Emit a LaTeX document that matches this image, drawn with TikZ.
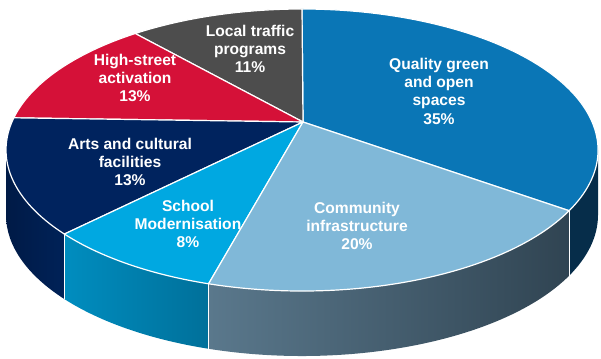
\documentclass[tikz,border=0pt]{standalone}
\usepackage{fontspec}
\setmainfont{Liberation Sans}
\usepackage{xcolor}
\usetikzlibrary{calc}

\definecolor{greenTop}{HTML}{0A76B6}
\definecolor{greenSide}{HTML}{062D4A}
\definecolor{commTop}{HTML}{80B8D8}
\definecolor{commSideL}{HTML}{5A788C}
\definecolor{commSideR}{HTML}{304452}
\definecolor{schoolTop}{HTML}{00A8E1}
\definecolor{schoolSideL}{HTML}{008DBF}
\definecolor{schoolSideR}{HTML}{00709A}
\definecolor{artsTop}{HTML}{00235E}
\definecolor{artsSideL}{HTML}{001A46}
\definecolor{artsSideR}{HTML}{002258}
\definecolor{highTop}{HTML}{D51138}
\definecolor{trafficTop}{HTML}{4D4D4D}

\begin{document}
\begin{tikzpicture}[
    x=1pt, y=1pt,
    slice/.style={draw=white, line width=1.2pt, line join=round},
    wall/.style={draw=none},
    edge/.style={draw=white, line width=1.2pt},
    lbl/.style={text=white, align=center, font=\bfseries\fontsize{15.6}{18.3}\selectfont}
]
    \useasboundingbox (0,0) rectangle (601,358);

    % centre of the top ellipse and meeting point of the slices
    \coordinate (ctr) at (302,208);
    \coordinate (apex) at (303,236);

    % slice borders on the rim
    \coordinate (bLeft) at ($(ctr)+(180:296pt and 141pt)$);
    \coordinate (bGreen) at ($(ctr)+(-25.5:296pt and 141pt)$);
    \coordinate (bTraffic) at ($(ctr)+(90:296pt and 141pt)$);
    \coordinate (bHigh) at ($(ctr)+(124.3:296pt and 141pt)$);
    \coordinate (bArts) at ($(ctr)+(166.8:296pt and 141pt)$);
    \coordinate (bSchool) at ($(ctr)+(216.6:296pt and 141pt)$);
    \coordinate (bComm) at ($(ctr)+(251.6:296pt and 141pt)$);

    % Side walls
    \path[wall, left color=artsSideL, right color=artsSideR] (bLeft)
        arc[start angle=180, end angle=216.6, x radius=296pt, y radius=141pt]
        -- ++(0,-65) arc[start angle=216.6, end angle=180, x radius=296pt, y radius=141pt] -- cycle;
    \path[wall, left color=schoolSideL, right color=schoolSideR] (bSchool)
        arc[start angle=216.6, end angle=251.6, x radius=296pt, y radius=141pt]
        -- ++(0,-65) arc[start angle=251.6, end angle=216.6, x radius=296pt, y radius=141pt] -- cycle;
    \path[wall, left color=commSideL, right color=commSideR] (bComm)
        arc[start angle=251.6, end angle=334.5, x radius=296pt, y radius=141pt]
        -- ++(0,-65) arc[start angle=334.5, end angle=251.6, x radius=296pt, y radius=141pt] -- cycle;
    \path[wall, fill=greenSide] (bGreen)
        arc[start angle=334.5, end angle=360, x radius=296pt, y radius=141pt]
        -- ++(0,-65) arc[start angle=360, end angle=334.5, x radius=296pt, y radius=141pt] -- cycle;

    % wall seams
    \draw[edge] (bSchool) -- ++(0,-65);
    \draw[edge] (bComm) -- ++(0,-65);
    \draw[edge] (bGreen) -- ++(0,-65);

    % Top slices
    \filldraw[slice, fill=greenTop] (apex) -- (bGreen)
        arc[start angle=-25.5, end angle=90, x radius=296pt, y radius=141pt] -- cycle;
    \filldraw[slice, fill=trafficTop] (apex) -- (bTraffic)
        arc[start angle=90, end angle=124.3, x radius=296pt, y radius=141pt] -- cycle;
    \filldraw[slice, fill=highTop] (apex) -- (bHigh)
        arc[start angle=124.3, end angle=166.8, x radius=296pt, y radius=141pt] -- cycle;
    \filldraw[slice, fill=artsTop] (apex) -- (bArts)
        arc[start angle=166.8, end angle=216.6, x radius=296pt, y radius=141pt] -- cycle;
    \filldraw[slice, fill=schoolTop] (apex) -- (bSchool)
        arc[start angle=216.6, end angle=251.6, x radius=296pt, y radius=141pt] -- cycle;
    \filldraw[slice, fill=commTop] (apex) -- (bComm)
        arc[start angle=251.6, end angle=334.5, x radius=296pt, y radius=141pt] -- cycle;

    % Labels
    \node[lbl] (green) at (439,267) {Quality green\\and open\\spaces\\35\%};
    \node[lbl] (traffic) at (250,309) {Local traffic\\programs\\11\%};
    \node[lbl] (high) at (135,280) {High-street\\activation\\13\%};
    \node[lbl] (arts) at (130,196) {Arts and cultural\\facilities\\13\%};
    \node[lbl] (school) at (188,134) {School\\Modernisation\\8\%};
    \node[lbl] (comm) at (357,132) {Community\\infrastructure\\20\%};

\end{tikzpicture}
\end{document}
